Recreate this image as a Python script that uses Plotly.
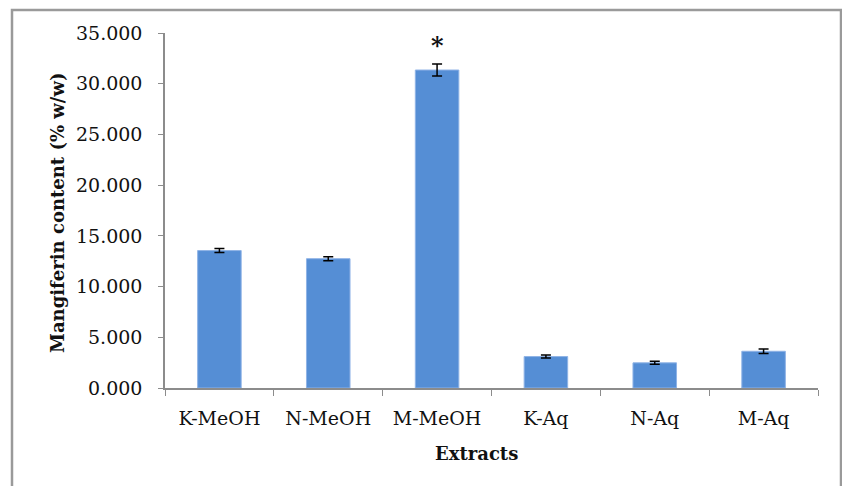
import plotly.graph_objects as go

# Mangiferin content of each extract (% w/w) with standard deviation
extracts = ["K-MeOH", "N-MeOH", "M-MeOH", "K-Aq", "N-Aq", "M-Aq"]
content = [13.55, 12.75, 31.35, 3.10, 2.48, 3.62]
sd = [0.20, 0.20, 0.60, 0.15, 0.15, 0.22]
y_ticks = [0, 5, 10, 15, 20, 25, 30, 35]
y_tick_labels = ["0.000", "5.000", "10.000", "15.000", "20.000", "25.000", "30.000", "35.000"]
significant = "M-MeOH"

FONT = "DejaVu Serif"
AXIS_GREY = "#8c8c8c"
TEXT = "#111111"

fig = go.Figure(
    go.Bar(
        x=extracts,
        y=content,
        marker=dict(color="#558ED5", line=dict(color="#8fb3e6", width=1)),
        error_y=dict(type="data", array=sd, visible=True,
                     color="#000000", thickness=1.5, width=5),
        width=0.4,
    )
)

W, H = 842, 486
L, R, T, B = 165, 24, 33, 98
plot_w = W - L - R
plot_h = H - T - B

fig.update_layout(
    width=W, height=H,
    margin=dict(l=L, r=R, t=T, b=B),
    paper_bgcolor="white", plot_bgcolor="white",
    showlegend=False,
    font=dict(family=FONT, color=TEXT, size=19),
    xaxis=dict(
        type="category",
        showline=True, linecolor=AXIS_GREY, linewidth=1.5,
        ticks="outside", tickson="boundaries", ticklen=6,
        tickcolor=AXIS_GREY, tickwidth=1.2,
        tickfont=dict(family=FONT, size=19, color=TEXT),
        ticklabelstandoff=12,
        showgrid=False, zeroline=False,
    ),
    yaxis=dict(
        range=[0, 35],
        tickvals=y_ticks, ticktext=y_tick_labels,
        showline=True, linecolor=AXIS_GREY, linewidth=1.5,
        ticks="outside", ticklen=5, tickcolor=AXIS_GREY, tickwidth=1.2,
        tickfont=dict(family=FONT, size=19, color=TEXT),
        ticklabelstandoff=12,
        showgrid=False, zeroline=False,
    ),
)

# Chart-area frame (bottom edge runs past the page)
fig.add_shape(
    type="rect", xref="paper", yref="paper",
    x0=(12 - L) / plot_w, x1=(841 - L) / plot_w,
    y0=-(500 - (H - B)) / plot_h,
    y1=1 + (T - 10) / plot_h,
    line=dict(color="#9a9a9a", width=2.5), fillcolor="rgba(0,0,0,0)",
    layer="below",
)

# Axis titles
fig.add_annotation(
    text="<b>Mangiferin content (% w/w)</b>",
    xref="paper", yref="paper",
    x=(57 - L) / plot_w, y=(H - B - 213) / plot_h,
    xanchor="center", yanchor="middle",
    textangle=-90, showarrow=False,
    font=dict(family=FONT, size=18, color=TEXT),
)
fig.add_annotation(
    text="<b>Extracts</b>",
    xref="paper", yref="paper",
    x=(476 - L) / plot_w, y=-(453 - (H - B)) / plot_h,
    xanchor="center", yanchor="middle",
    showarrow=False,
    font=dict(family=FONT, size=18, color=TEXT),
)

# Significance marker
i = extracts.index(significant)
fig.add_annotation(
    text="<b>*</b>", x=significant, y=content[i] + sd[i],
    yanchor="bottom", yshift=2, showarrow=False,
    font=dict(family=FONT, size=24, color=TEXT),
)

fig.write_html("out.html")
